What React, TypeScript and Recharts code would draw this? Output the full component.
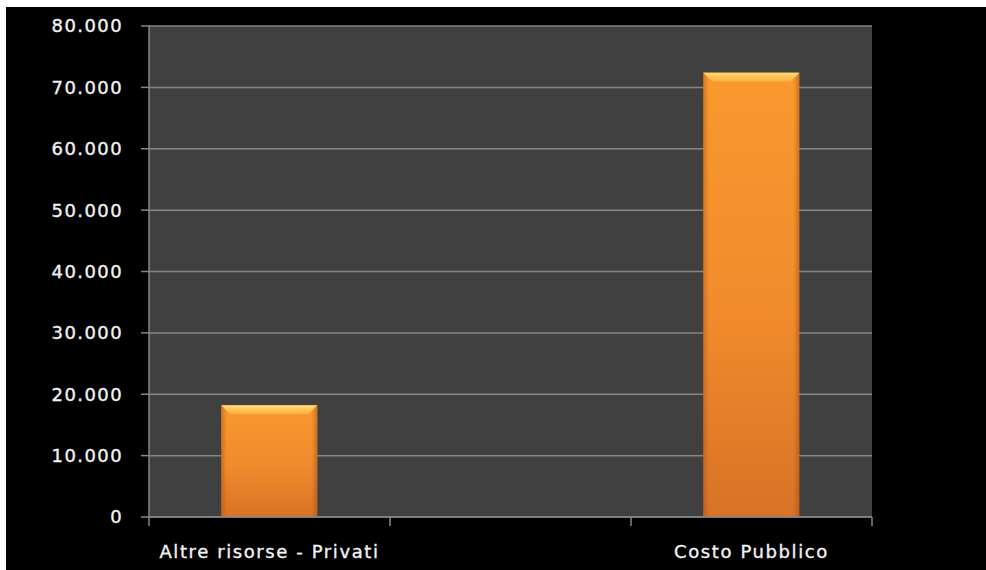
import React from "react";
import { BarChart, Bar, XAxis, YAxis, CartesianGrid } from "recharts";

const categories = ["Altre risorse - Privati", " ", "Costo Pubblico"];
const values: (number | null)[] = [18200, null, 72400];
const yTicks = [0, 10000, 20000, 30000, 40000, 50000, 60000, 70000, 80000];
const frameTicks = [0, 1, 2, 3];

const data = categories.map((name, i) => ({ name, value: values[i] }));

const fmt = (v: number) => (v === 0 ? "0" : String(v).replace(/\B(?=(\d{3})+(?!\d))/g, "."));

const FONT = "'DejaVu Sans', sans-serif";
const TEXT = "#f2f2f2";
const LINE = "#868686";

const tickStyle = (ls: number) => ({
  fill: TEXT,
  fontSize: 18,
  fontFamily: FONT,
  letterSpacing: ls,
  stroke: TEXT,
  strokeWidth: 0.35,
});

const EmptyTick = () => <g />;

const BevelBar = (props: any) => {
  const { x, y, width, height, index } = props;
  if (height == null || height <= 0 || width <= 0) return null;
  const b = Math.min(9, height / 2);
  const id = `bb${index}`;
  return (
    <g>
      <defs>
        <linearGradient id={`${id}v`} x1="0" y1="0" x2="0" y2="1">
          <stop offset="0%" stopColor="#ff9e30" />
          <stop offset="55%" stopColor="#f68f2e" />
          <stop offset="100%" stopColor="#dc7528" />
        </linearGradient>
        <linearGradient id={`${id}h`} x1="0" y1="0" x2="1" y2="0">
          <stop offset="0%" stopColor="#9a4a10" stopOpacity={0.45} />
          <stop offset="6%" stopColor="#9a4a10" stopOpacity={0.06} />
          <stop offset="94%" stopColor="#9a4a10" stopOpacity={0.06} />
          <stop offset="100%" stopColor="#9a4a10" stopOpacity={0.5} />
        </linearGradient>
        <linearGradient id={`${id}t`} x1="0" y1="0" x2="0" y2="1">
          <stop offset="0%" stopColor="#ffdc78" />
          <stop offset="100%" stopColor="#ffad3a" />
        </linearGradient>
      </defs>
      <rect x={x} y={y} width={width} height={height} fill={`url(#${id}v)`} />
      <rect x={x} y={y} width={width} height={height} fill={`url(#${id}h)`} />
      <polygon
        points={`${x},${y} ${x + width},${y} ${x + width - b},${y + b} ${x + b},${y + b}`}
        fill={`url(#${id}t)`}
      />
    </g>
  );
};

export default function App() {
  return (
    <div
      style={{
        position: "absolute",
        left: 6,
        top: 7,
        width: 980,
        height: 563,
        background: "#000000",
      }}
    >
      <BarChart
        width={980}
        height={563}
        data={data}
        margin={{ top: 19, right: 114, left: 0, bottom: 0 }}
        barCategoryGap="30%"
      >
        <CartesianGrid
          vertical={false}
          fill="#404040"
          fillOpacity={1}
          stroke={LINE}
          strokeWidth={1.5}
        />
        <XAxis
          xAxisId="cat"
          dataKey="name"
          type="category"
          height={52}
          axisLine={false}
          tickLine={false}
          tickSize={0}
          tickMargin={27}
          interval={0}
          tick={tickStyle(1.6)}
        />
        <XAxis
          xAxisId="a_frame"
          type="number"
          dataKey="none"
          domain={[0, 3]}
          allowDataOverflow={true}
          ticks={frameTicks}
          tick={EmptyTick}
          tickSize={9}
          height={1}
          interval={0}
          axisLine={{ stroke: LINE, strokeWidth: 1.5 }}
          tickLine={{ stroke: LINE, strokeWidth: 1.5 }}
        />
        <YAxis
          domain={[0, 80000]}
          ticks={yTicks}
          width={143}
          tickFormatter={fmt}
          tickSize={8}
          tickMargin={18}
          axisLine={{ stroke: LINE, strokeWidth: 1.5 }}
          tickLine={{ stroke: LINE, strokeWidth: 1.5 }}
          tick={tickStyle(1.4)}
        />
        <Bar
          xAxisId="cat"
          dataKey="value"
          shape={<BevelBar />}
          isAnimationActive={false}
        />
      </BarChart>
    </div>
  );
}
